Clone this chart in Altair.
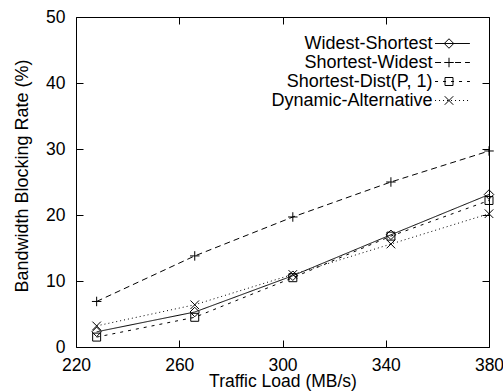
import altair as alt
import pandas as pd

# ---- data ----
loads = [228, 266, 304, 342, 380]
series_names = ["Widest-Shortest", "Shortest-Widest", "Shortest-Dist(P, 1)", "Dynamic-Alternative"]
widest_shortest = [2.3, 5.3, 10.8, 17.0, 23.1]
shortest_widest = [6.9, 13.8, 19.7, 25.0, 29.7]
shortest_dist = [1.5, 4.5, 10.5, 16.8, 22.2]
dynamic_alt = [3.2, 6.4, 11.0, 15.6, 20.2]
x_ticks = [220, 260, 300, 340, 380]
y_ticks = [0, 10, 20, 30, 40, 50]

rows = []
for name, vals in zip(series_names, [widest_shortest, shortest_widest, shortest_dist, dynamic_alt]):
    for x, v in zip(loads, vals):
        rows.append({"load": x, "rate": v, "series": name, "series2": name, "series3": name})
df = pd.DataFrame(rows)

FONT = "Liberation Sans"
FS = 17.5
LFS = 18

# order of series (descending alphabetical == legend order of reference)
dashes = [[1, 0], [6, 4], [3, 5], [1, 3]]
shapes = [
    "M-0.5,0L0,-0.5L0.5,0L0,0.5Z",
    "M-0.5,0H0.5M0,-0.5V0.5",
    "M-0.42,-0.42H0.42V0.42H-0.42Z",
    "M-0.45,-0.45L0.45,0.45M-0.45,0.45L0.45,-0.45",
]

xscale = alt.Scale(domain=[220, 380], nice=False, zero=False)
yscale = alt.Scale(domain=[0, 50], nice=False, zero=True)

SYM_X = 363      # legend symbols (lines + markers)
LAB_X = 336.5    # legend labels (right aligned)
LEG_Y = 16.5

base = alt.Chart(df)

lines = base.mark_line(color="black").encode(
    x=alt.X("load:Q", scale=xscale,
            axis=alt.Axis(orient="bottom", values=x_ticks, offset=-7, tickSize=7,
                          domain=False, grid=False, labelPadding=9, labelFlush=False,
                          title="Traffic Load (MB/s)", titlePadding=-1)),
    y=alt.Y("rate:Q", scale=yscale,
            axis=alt.Axis(orient="left", values=y_ticks, offset=-7, tickSize=7,
                          domain=False, grid=False, labelPadding=11, labelFlush=False,
                          title="Bandwidth Blocking Rate (%)", titleFontSize=18,
                          titlePadding=14, titleY=158.5)),
    strokeDash=alt.StrokeDash("series:N", sort="descending",
                              scale=alt.Scale(range=dashes),
                              legend=alt.Legend(orient="none", legendX=SYM_X, legendY=LEG_Y,
                                                title=None, symbolType="M-1.47,0H2.2",
                                                symbolSize=361, symbolStrokeWidth=1,
                                                symbolStrokeColor="black", labelOpacity=0,
                                                labelExpr="' '",
                                                labelFontSize=LFS, padding=0, rowPadding=0)),
    strokeWidth=alt.StrokeWidth("series3:N", sort="descending",
                                scale=alt.Scale(range=[1, 1, 1, 1]),
                                legend=alt.Legend(orient="none", legendX=LAB_X, legendY=LEG_Y,
                                                  title=None, symbolSize=361, symbolOpacity=0,
                                                  labelAlign="right", labelOffset=0, labelLimit=400,
                                                  labelFontSize=LFS, padding=0, rowPadding=0)),
)

points = base.mark_point(filled=False, color="black", strokeWidth=1, size=361, opacity=1).encode(
    x=alt.X("load:Q", scale=xscale,
            axis=alt.Axis(orient="top", values=x_ticks, offset=-7, tickSize=7,
                          domain=False, grid=False, labels=False, title=None)),
    y=alt.Y("rate:Q", scale=yscale,
            axis=alt.Axis(orient="right", values=y_ticks, offset=-7, tickSize=7,
                          domain=False, grid=False, labels=False, title=None)),
    shape=alt.Shape("series2:N", sort="descending",
                    scale=alt.Scale(range=shapes),
                    legend=alt.Legend(orient="none", legendX=SYM_X, legendY=LEG_Y,
                                      title=None, symbolSize=361, symbolStrokeWidth=1,
                                      symbolStrokeColor="black", symbolFillColor="transparent",
                                      labelOpacity=0, labelExpr="' '",
                                      labelFontSize=LFS, padding=0, rowPadding=0)),
)

chart = (
    alt.layer(lines, points)
    .resolve_axis(x="independent", y="independent")
    .resolve_legend(strokeDash="independent", shape="independent", strokeWidth="independent")
    .properties(width=413, height=330,
                autosize=alt.AutoSizeParams(type="none"),
                padding={"left": 76, "top": 17, "right": 14, "bottom": 45})
    .configure(font=FONT)
    .configure_view(stroke="black", strokeWidth=1)
    .configure_axis(labelFont=FONT, labelFontSize=FS, labelColor="black",
                    titleFont=FONT, titleFontSize=FS, titleFontWeight="normal",
                    titleColor="black", tickColor="black", tickWidth=1)
    .configure_legend(labelFont=FONT, labelColor="black")
)

chart.save("out.html", embed_options={"renderer": "svg", "actions": False})
